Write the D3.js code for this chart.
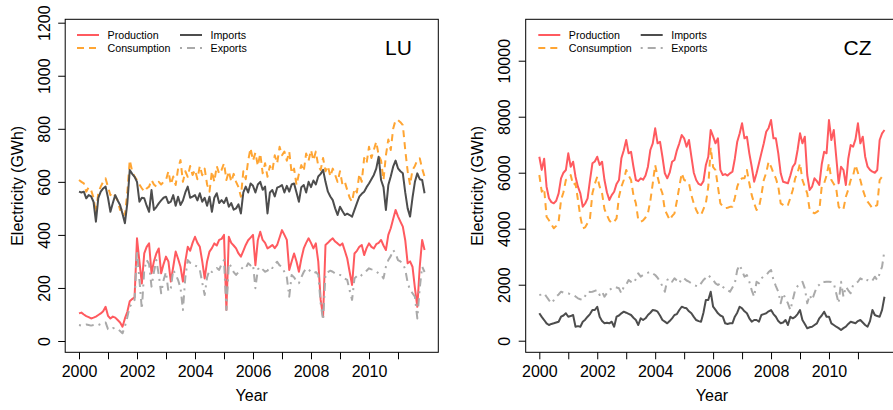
<!DOCTYPE html>
<html><head><meta charset="utf-8">
<script src="https://cdn.jsdelivr.net/npm/d3@7"></script>
<style>
body{margin:0;background:#fff}
svg{display:block}
text{font-family:"Liberation Sans",Arial,Helvetica,sans-serif;fill:#000}
</style>
</head><body>
<svg id="chart" width="893" height="410"></svg>
<script>
// ---------------- DATA ----------------
const startYear = 2000;            // monthly data, Jan 2000 – Dec 2011
const xTicks = [2000,2001,2002,2003,2004,2005,2006,2007,2008,2009,2010,2011];
const xTickLabels = ["2000","2002","2004","2006","2008","2010"];
const luYTicks = [0,200,400,600,800,1000,1200];
const czYTicks = [0,2000,4000,6000,8000,10000];
const seriesNames = ["Production","Consumption","Imports","Exports"];

const luProduction = [
104,107,100,94,90,85,88,92,98,104,112,129,
95,85,92,88,79,70,54,85,110,150,158,165,
387,300,217,330,355,368,255,300,330,349,255,290,
318,300,224,280,337,310,280,224,300,355,340,370,
393,370,355,300,236,300,337,350,368,360,381,385,
400,117,393,370,360,349,330,318,340,362,380,390,
400,286,380,412,381,370,349,355,362,350,362,390,
418,400,381,268,300,330,300,261,310,349,370,387,
370,349,368,300,155,92,362,370,380,387,375,368,
360,368,340,311,260,211,330,340,355,362,324,350,
368,355,349,365,370,381,360,343,400,425,460,494,
470,450,431,380,293,300,280,200,129,280,381,343];
const luConsumption = [
607,600,594,563,580,569,540,481,560,582,600,613,
580,550,560,544,530,494,500,475,560,682,640,620,
607,590,576,563,575,582,607,590,582,600,590,600,
607,640,590,620,588,650,682,600,640,619,660,626,
645,610,660,625,650,590,563,640,600,660,630,645,
670,607,640,600,630,600,580,544,640,610,680,727,
680,710,660,707,632,670,619,660,640,700,670,732,
700,714,680,714,632,650,588,630,663,640,707,680,
720,680,714,660,645,690,640,660,620,650,626,600,
640,590,600,569,540,525,575,560,630,600,690,670,
732,690,720,751,700,680,607,700,760,720,800,833,
833,825,814,720,640,588,645,660,682,689,650,619];
const luImports = [
563,560,563,538,550,545,525,450,540,563,575,582,
540,487,520,550,530,513,480,444,520,645,630,619,
600,525,540,538,510,487,569,494,505,519,530,540,
544,520,525,550,510,544,513,530,560,582,540,544,
550,530,557,525,540,510,544,487,540,557,520,531,
520,540,506,520,495,500,515,481,560,582,560,594,
585,560,590,600,570,582,481,560,569,545,578,582,
588,560,585,563,590,594,560,525,580,588,560,600,
580,605,590,620,630,645,600,563,545,531,500,475,
506,490,475,480,475,469,494,520,544,555,563,580,
594,610,626,650,695,607,580,494,588,620,657,680,
651,640,632,560,500,469,540,600,632,610,607,557];
const luExports = [
60,58,60,62,60,58,60,62,60,64,66,70,
45,41,48,50,45,38,29,55,90,130,140,155,
343,230,120,268,305,290,205,260,305,250,180,230,
260,186,200,268,250,230,200,117,240,305,295,293,
285,280,268,220,173,240,268,260,268,275,268,290,
305,117,293,280,260,249,260,270,280,275,293,285,
290,199,270,280,270,261,265,280,275,290,299,285,
280,260,240,167,249,240,225,218,240,260,274,270,
260,255,260,250,142,79,255,260,265,261,255,250,
249,245,235,230,190,155,236,245,240,249,255,265,
274,270,268,262,255,250,236,280,305,320,343,330,
305,300,293,270,220,192,180,167,85,200,280,260];

const czProduction = [
6571,6100,6500,5500,5086,4950,4907,5000,5264,5800,6000,6096,
6693,6214,6393,5857,5500,5264,4786,4900,5086,5739,6336,6400,
6571,6275,6393,5739,5300,5025,5200,5321,5600,5739,6514,6800,
7168,6693,6750,6214,5739,5700,5800,5750,5900,6214,6811,7050,
7586,7050,7107,6571,5979,5800,6000,6393,6454,6800,7050,7346,
7229,6929,7168,6571,6000,5739,5600,5561,5700,6275,6571,7525,
7300,7050,7229,6100,5918,5950,5900,5979,6036,6500,7107,7400,
7764,7229,7286,6693,6214,5679,5979,6336,6700,7050,7464,7600,
7882,7229,7229,6693,5979,5679,5650,5621,5900,6214,6336,6811,
7407,7050,7286,5918,5382,5500,5800,5700,5561,6300,6750,6693,
7882,7168,7525,6571,5621,6214,6096,5561,6500,6989,6929,7200,
7764,7050,7286,6571,6214,6100,6036,6000,6096,7168,7407,7525];
const czConsumption = [
5918,5321,5443,4429,4300,4150,4014,4100,4250,5025,5300,5739,
5800,5918,5561,5621,5025,4429,4014,4050,4200,4371,5264,5600,
5857,5500,5264,4700,4489,4300,4193,4250,4371,5143,5500,5739,
6096,5900,5739,5200,4907,4311,4250,4300,4400,4550,5000,5621,
6275,5857,5500,5264,4668,4500,4311,4450,4550,5000,5500,5979,
5739,5700,5621,5200,4900,4668,4500,4489,4700,4907,5500,6900,
6200,6096,5500,4907,4800,4729,4750,4780,4786,5100,5500,5739,
5800,5800,6096,5621,5200,4907,4668,4750,5200,5739,6000,6393,
6214,5979,5800,5500,4907,4850,4786,4846,5100,5382,5800,6000,
6336,5739,5500,5264,4668,4600,4550,4600,4668,5500,5621,5900,
6336,5739,5600,5443,4786,4668,4700,5143,5400,5739,5900,6275,
6000,5739,5400,5143,4964,4850,4729,4800,4846,5739,5857,5800];
const czImports = [
979,850,739,620,561,600,621,650,679,857,900,979,
857,880,918,500,520,500,679,750,857,950,1096,1096,
1214,857,700,621,640,621,679,500,857,900,979,1036,
1000,960,918,820,739,561,800,739,800,918,1000,1096,
1080,1036,900,739,680,621,700,800,918,950,1096,1214,
1180,1157,1050,979,850,739,700,679,1000,1454,1454,1750,
1214,1100,979,900,857,621,600,621,621,857,1000,1214,
1157,1050,979,800,679,739,739,679,918,950,979,1050,
1096,950,857,700,621,650,739,561,857,800,850,950,
1096,739,600,443,480,500,560,621,800,900,1036,857,
857,621,560,500,450,382,450,500,600,679,650,621,
700,739,650,561,500,700,1096,918,880,857,1100,1571];
const czExports = [
1632,1650,1693,1571,1450,1336,1450,1571,1650,1750,1720,1700,
1693,1650,1632,1580,1514,1480,1454,1600,1750,1740,1750,1780,
1811,1632,1750,1571,1700,1811,1870,1929,1900,1871,1693,1929,
2000,2168,2100,2050,2200,2407,2286,2350,2407,2430,2464,2400,
2346,2250,2107,1950,1750,2168,2229,2107,2229,2150,2050,2229,
2229,2150,2107,2050,1989,1960,1929,2050,2168,2250,2346,2250,
2168,2050,1989,2050,1929,1850,1800,1750,1900,2050,2525,2704,
2500,2286,2346,2107,1800,1571,2107,2050,2229,2300,2346,2450,
2525,2168,1950,1750,1336,1693,1500,1336,1096,1454,1811,1950,
2050,2107,1871,1336,1632,1454,1700,1929,2000,2107,2100,2107,
2107,2100,2050,1693,1336,2107,1571,1929,1800,1693,1989,2050,
2107,2229,2180,2107,2168,2107,2150,2286,2168,2400,2643,3239];

// ---------------- STYLE ----------------
const colors = {Production:"#FF5A5F", Consumption:"#FFA533", Imports:"#4D4D4D", Exports:"#AAAAAA"};
const dashes = {Production:null, Consumption:"7,5", Imports:null, Exports:"2,5,8,5"};

const svg = d3.select("#chart");

function drawPanel(cfg){
  const g = svg.append("g");
  const x = d3.scaleLinear().domain(cfg.xDomain).range([cfg.left, cfg.right]);
  const y = d3.scaleLinear().domain(cfg.yDomain).range([cfg.bottom, cfg.top]);

  const line = d3.line().x((d,i)=>x(startYear + i/12)).y(d=>y(d));
  seriesNames.forEach(name=>{
    g.append("path").datum(cfg.series[name])
      .attr("fill","none")
      .attr("stroke",colors[name])
      .attr("stroke-width",2)
      .attr("stroke-dasharray",dashes[name])
      .attr("stroke-linejoin","round")
      .attr("d",line);
  });

  g.append("rect").attr("x",cfg.left).attr("y",cfg.top)
    .attr("width",cfg.right-cfg.left).attr("height",cfg.bottom-cfg.top)
    .attr("fill","none").attr("stroke","#000").attr("stroke-width",1);

  const xa = g.append("g").attr("transform",`translate(0,${cfg.bottom})`)
    .call(d3.axisBottom(x).tickValues(xTicks).tickSize(7)
      .tickFormat(d=> xTickLabels.includes(String(d)) ? String(d) : ""));
  xa.select(".domain").remove();
  xa.selectAll("line").attr("stroke","#000");
  xa.selectAll("text").attr("y",24.7).attr("dy",0).attr("fill","#000").style("font-size","16px");

  const ya = g.append("g").attr("transform",`translate(${cfg.left},0)`)
    .call(d3.axisLeft(y).tickValues(cfg.yTicks).tickSize(7).tickFormat(d3.format("d")));
  ya.select(".domain").remove();
  ya.selectAll("line").attr("stroke","#000");
  ya.selectAll("text").attr("x",0).attr("dy",0)
    .attr("text-anchor","middle").attr("fill","#000")
    .attr("transform","translate(-15.5,0) rotate(-90)")
    .style("font-size","16px");

  g.append("text").attr("x",(cfg.left+cfg.right)/2).attr("y",401)
    .attr("text-anchor","middle").style("font-size","16px").text("Year");
  g.append("text")
    .attr("transform",`translate(${cfg.ytitleX},${(cfg.top+cfg.bottom)/2}) rotate(-90)`)
    .attr("text-anchor","middle").style("font-size","16px").text("Electricity (GWh)");

  g.append("text").attr("x",cfg.labelX).attr("y",54.5)
    .style("font-size","21px").text(cfg.name);

  const cols = [["Production","Consumption"],["Imports","Exports"]];
  cols.forEach((col,ci)=>{
    col.forEach((name,ri)=>{
      const lx = cfg.legendX + ci*cfg.legendColW;
      const ly = 35 + ri*13;
      g.append("line").attr("x1",lx).attr("x2",lx+22).attr("y1",ly).attr("y2",ly)
        .attr("stroke",colors[name]).attr("stroke-width",2)
        .attr("stroke-dasharray",dashes[name]);
      g.append("text").attr("x",lx+30.5).attr("y",ly+4)
        .style("font-size","10.7px").text(name);
    });
  });
}

drawPanel({
  name:"LU", left:65.2, right:438.3, top:19.3, bottom:352.3,
  xDomain:[1999.524, 2012.39], yDomain:[-42.6, 1212.8], yTicks:luYTicks,
  ytitleX:23, labelX:385, legendX:77, legendColW:103,
  series:{Production:luProduction, Consumption:luConsumption, Imports:luImports, Exports:luExports}
});
drawPanel({
  name:"CZ", left:525.7, right:898.2, top:19.3, bottom:352.3,
  xDomain:[1999.53, 2012.39], yDomain:[-414, 11479], yTicks:czYTicks,
  ytitleX:483, labelX:843.5, legendX:538.3, legendColW:102.4,
  series:{Production:czProduction, Consumption:czConsumption, Imports:czImports, Exports:czExports}
});
</script>
</body></html>
